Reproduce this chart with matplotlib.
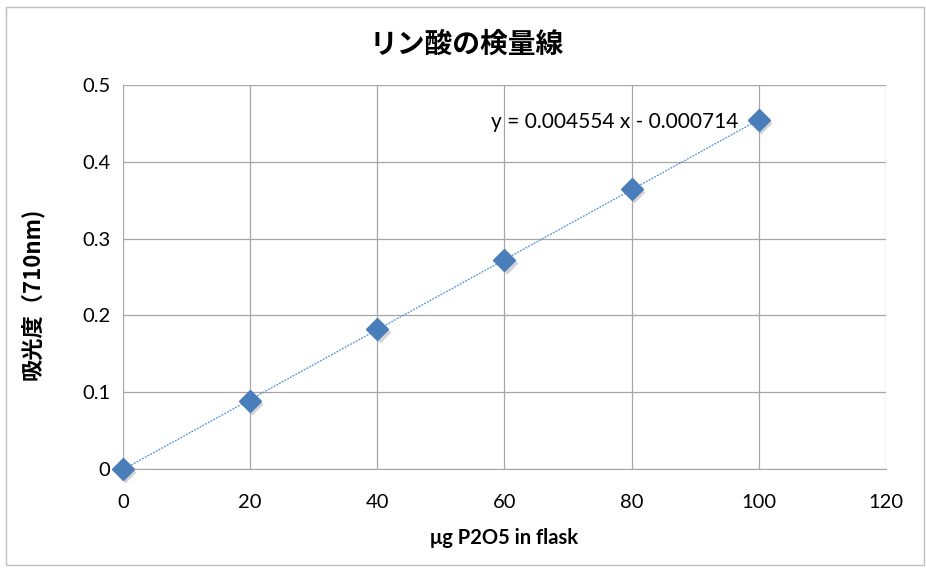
import numpy as np
import matplotlib.pyplot as plt
from matplotlib.patches import Rectangle

plt.rcParams['font.family'] = ['Lato', 'Noto Sans CJK JP', 'DejaVu Sans']

# data: µg P2O5 vs absorbance at 710 nm
p2o5 = [0, 20, 40, 60, 80, 100]
absorbance = [0.0, 0.089, 0.182, 0.272, 0.365, 0.454]
x_ticks = [0, 20, 40, 60, 80, 100, 120]
y_ticks = [0, 0.1, 0.2, 0.3, 0.4, 0.5]
y_ticklabels = ['0', '0.1', '0.2', '0.3', '0.4', '0.5']
eq_label = 'y = 0.004554 x - 0.000714'

fig = plt.figure(figsize=(9.26, 5.68), dpi=100)
fig.patches.append(Rectangle((0.006, 0.005), 0.992, 0.983, transform=fig.transFigure,
                             fill=False, edgecolor='#bfbfbf', linewidth=1))
ax = fig.add_axes([0.1328, 0.1743, 0.824, 0.6761])

# linear fit (trendline)
slope, icpt = np.polyfit(p2o5, absorbance, 1)
xs = np.array([p2o5[0], p2o5[-1]])
ax.plot(xs, slope * xs + icpt, linestyle=(0, (1.5, 1)), color='#4a90d9', lw=0.9, zorder=2)

# shadow + markers
ax.plot(np.array(p2o5) + 0.35, np.array(absorbance) - 0.004, 'D', ms=11.5,
        color='#a0a0a0', alpha=0.45, mec='none', zorder=3, clip_on=False)
ax.plot(p2o5, absorbance, 'D', ms=11.5, color='#4a7ebb', mec='#4a7ebb', zorder=4,
        clip_on=False)

ax.set_xlim(0, 120)
ax.set_ylim(0, 0.5)
ax.set_xticks(x_ticks)
ax.set_yticks(y_ticks)
ax.set_yticklabels(y_ticklabels)
ax.grid(True, color='#a6a6a6', lw=0.9)
ax.set_axisbelow(True)
for side in ['top', 'right', 'left']:
    ax.spines[side].set_visible(False)
ax.spines['bottom'].set_color('#a6a6a6')
ax.tick_params(length=0, labelsize=14.5)
ax.tick_params(axis='x', pad=18)
ax.tick_params(axis='y', pad=9)

ax.text(57.9, 0.452, eq_label, fontsize=15, va='center', ha='left')

fig.text(0.504, 0.921, 'リン酸の検量線', fontsize=20, fontweight='bold',
         family=['Noto Sans CJK JP'], ha='center', va='center')
ax.set_xlabel('μg P2O5 in flask', fontsize=14.5, fontweight='bold', labelpad=12)
ax.set_ylabel('吸光度（710nm)', fontsize=16, fontweight='bold',
              family=['Noto Sans CJK JP', 'DejaVu Sans'], va='center')
ax.yaxis.set_label_coords(-0.119, 0.455)

fig.savefig('out.png', dpi=100)
